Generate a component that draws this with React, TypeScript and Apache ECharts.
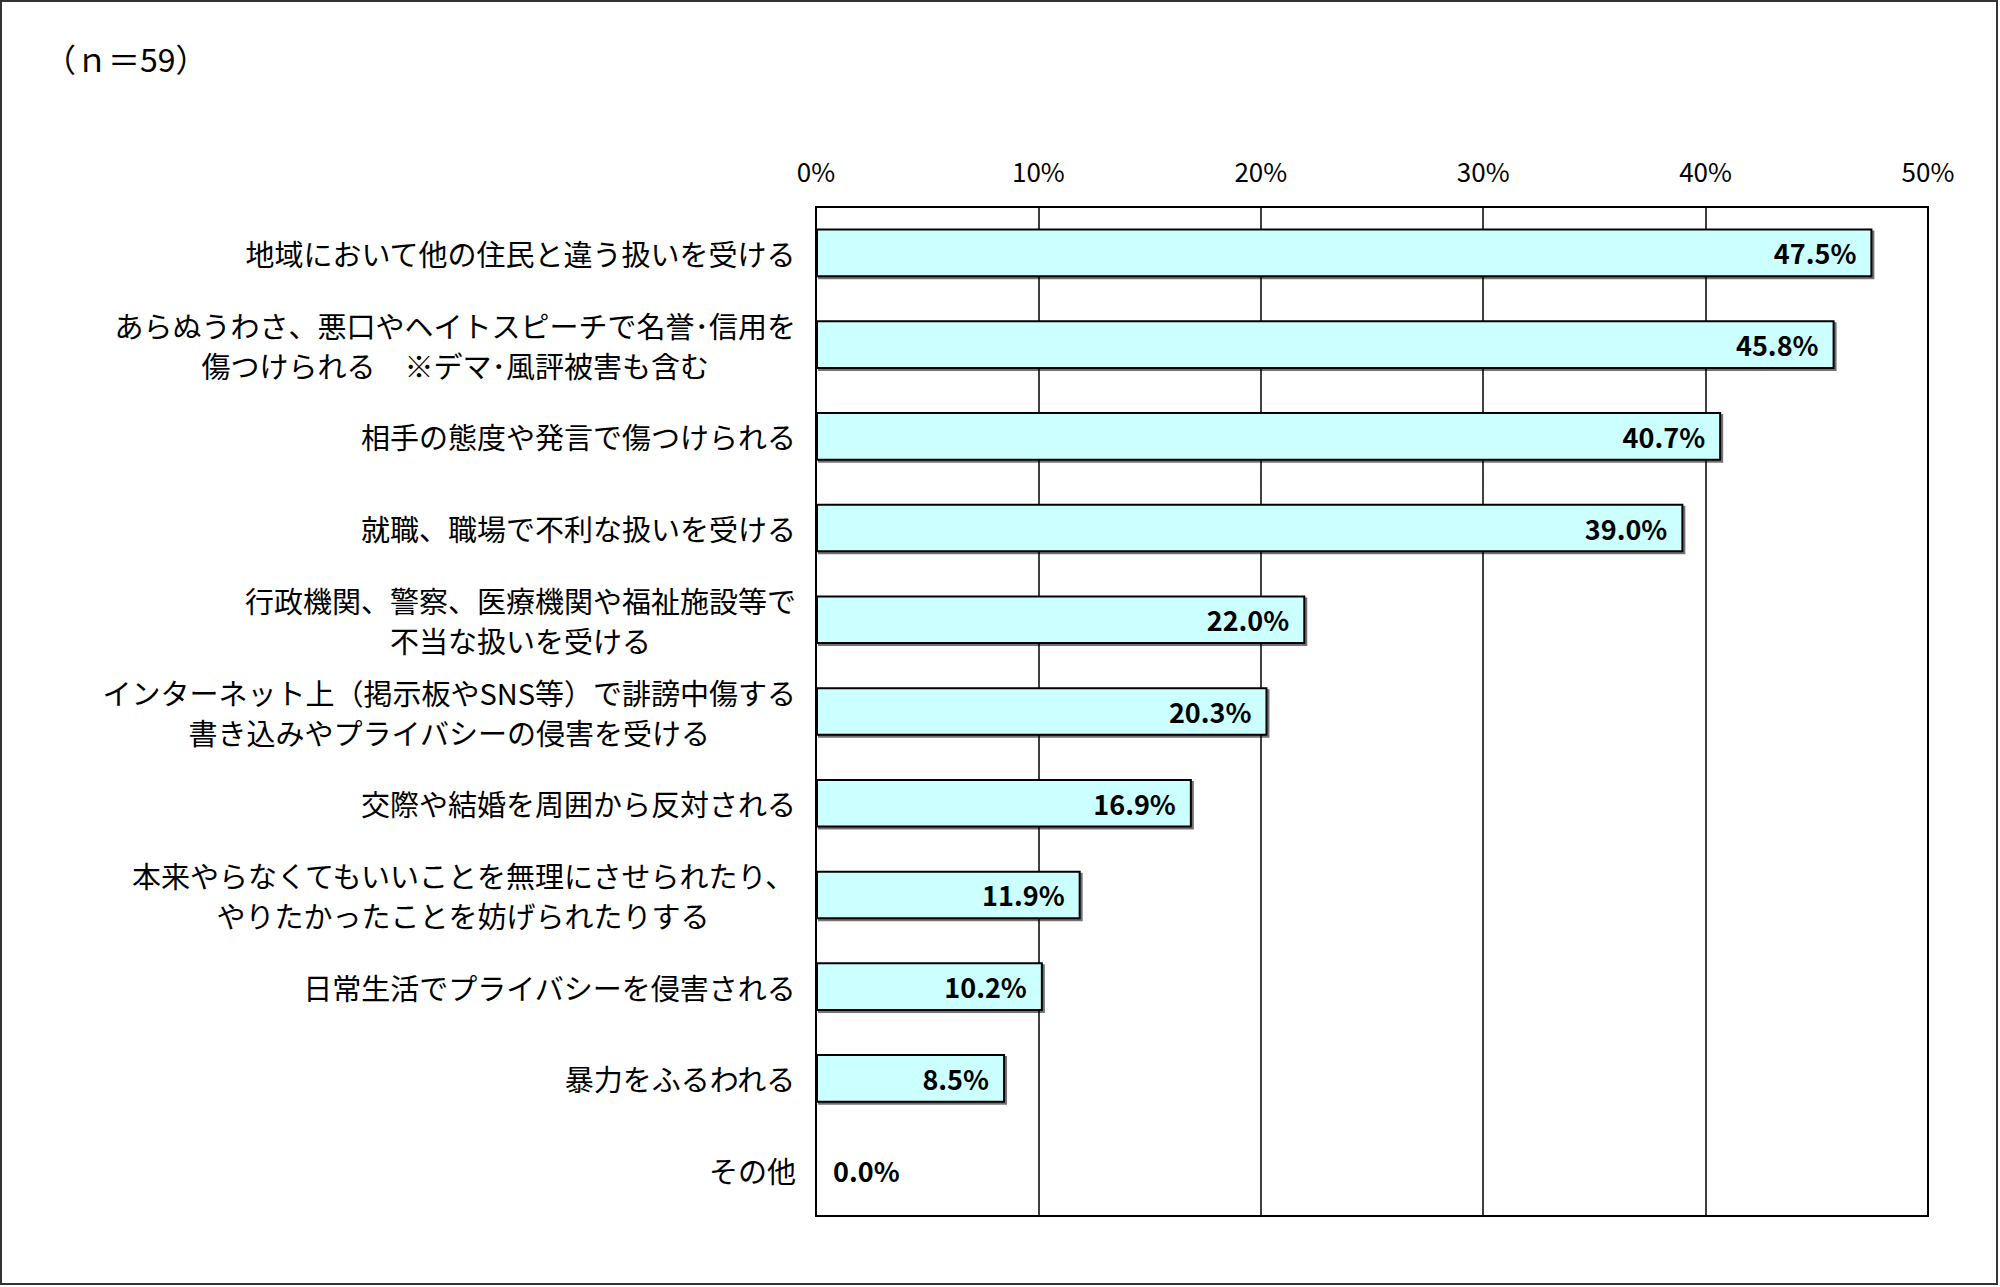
import React, { useEffect, useRef } from "react";
import * as echarts from "echarts";

const categories: string[] = [
  "地域において他の住民と違う扱いを受ける",
  "あらぬうわさ、悪口やヘイトスピーチで名誉･信用を\n傷つけられる　※デマ･風評被害も含む",
  "相手の態度や発言で傷つけられる",
  "就職、職場で不利な扱いを受ける",
  "行政機関、警察、医療機関や福祉施設等で\n不当な扱いを受ける",
  "インターネット上（掲示板やSNS等）で誹謗中傷する\n書き込みやプライバシーの侵害を受ける",
  "交際や結婚を周囲から反対される",
  "本来やらなくてもいいことを無理にさせられたり、\nやりたかったことを妨げられたりする",
  "日常生活でプライバシーを侵害される",
  "暴力をふるわれる",
  "その他",
];

const values: number[] = [47.5, 45.8, 40.7, 39.0, 22.0, 20.3, 16.9, 11.9, 10.2, 8.5, 0.0];

const sampleLabel = "（ｎ＝59）";

const FONT = '"Noto Sans CJK JP", "Noto Sans", sans-serif';

export default function App() {
  const ref = useRef<HTMLDivElement>(null);
  useEffect(() => {
    if (!ref.current) return;
    const chart = echarts.init(ref.current, undefined, { renderer: "svg" });
    chart.setOption({
      animation: false,
      backgroundColor: "#ffffff",
      textStyle: { fontFamily: FONT, color: "#000" },
      graphic: [
        {
          type: "rect",
          shape: { x: 1, y: 1, width: 1996, height: 1283 },
          style: { fill: "none", stroke: "#333", lineWidth: 2 },
          silent: true,
        },
        {
          type: "text",
          left: 44,
          top: 42,
          style: { text: sampleLabel, font: `32px ${FONT}`, fill: "#000" },
        },
      ],
      grid: {
        left: 816,
        right: 72,
        top: 207,
        bottom: 71,
        show: true,
        borderColor: "#000",
        borderWidth: 2,
        containLabel: false,
      },
      xAxis: {
        type: "value",
        position: "top",
        min: 0,
        max: 50,
        interval: 10,
        axisLine: { show: true, lineStyle: { color: "#000", width: 2 } },
        axisTick: { show: false },
        axisLabel: {
          formatter: "{value}%",
          fontSize: 26,
          color: "#000",
          fontFamily: FONT,
          margin: 24,
        },
        splitLine: { show: true, lineStyle: { color: "#000", width: 1.5 } },
      },
      yAxis: {
        type: "category",
        inverse: true,
        data: categories,
        axisLine: { show: true, lineStyle: { color: "#000", width: 2 } },
        axisTick: { show: false },
        axisLabel: {
          margin: 20,
          color: "#000",
          fontSize: 29,
          fontFamily: FONT,
          lineHeight: 40,
          formatter: (v: string) =>
            v
              .split("\n")
              .map((l) => `{c|${l}}`)
              .join("\n"),
          rich: {
            c: {
              align: "center",
              fontSize: 29,
              lineHeight: 40,
              fontFamily: FONT,
              color: "#000",
            },
          },
        },
      },
      series: [
        {
          type: "bar",
          barWidth: "53%",
          data: values.map((v) =>
            v === 0
              ? { value: v, label: { position: "right", distance: 16 } }
              : { value: v }
          ),
          itemStyle: {
            color: "#CCFFFF",
            borderColor: "#000",
            borderWidth: 2,
            shadowColor: "rgba(0,0,0,0.55)",
            shadowOffsetX: 2,
            shadowOffsetY: 2,
            shadowBlur: 0,
          },
          label: {
            show: true,
            position: "insideRight",
            distance: 16,
            formatter: (p: any) => `${Number(p.value).toFixed(1)}%`,
            fontSize: 27,
            fontWeight: "bold",
            color: "#000",
            fontFamily: FONT,
          },
        },
      ],
    });
    return () => chart.dispose();
  }, []);
  return (
    <div
      ref={ref}
      style={{ position: "fixed", left: 0, top: 0, width: 2000, height: 1287 }}
    />
  );
}
